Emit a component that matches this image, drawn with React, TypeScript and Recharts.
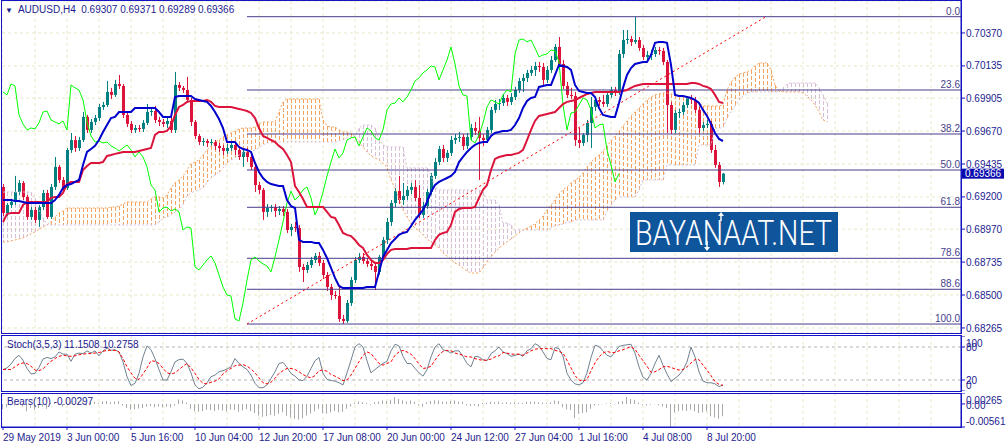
import React from "react";
import {
  ComposedChart,
  Bar,
  Line,
  XAxis,
  YAxis,
  CartesianGrid,
  ReferenceLine,
} from "recharts";

// AUDUSD H4 candles, bar 0 = 29 May 2019
const opens = [
  0.69271, 0.69086, 0.69143, 0.69164, 0.69235, 0.693, 0.692, 0.69057, 0.69107, 0.69036,
  0.69128, 0.69228, 0.69057, 0.69271, 0.69414, 0.69321, 0.69264, 0.69535, 0.69606, 0.69549,
  0.69606, 0.69771, 0.69678, 0.69735, 0.69763, 0.69842, 0.69856, 0.69949, 0.69928, 0.70006,
  0.69992, 0.69785, 0.69721, 0.69678, 0.69692, 0.69685, 0.69728, 0.69806, 0.69813, 0.69749,
  0.69735, 0.69721, 0.69742, 0.69678, 0.69999, 0.69978, 0.69963, 0.69892, 0.69735, 0.69635,
  0.69592, 0.69599, 0.69585, 0.69592, 0.69564, 0.69549, 0.69528, 0.69549, 0.69571, 0.69535,
  0.69485, 0.69521, 0.69485, 0.69414, 0.69285, 0.6925, 0.69093, 0.69121, 0.69128, 0.691,
  0.69114, 0.69093, 0.68964, 0.68986, 0.68978, 0.687, 0.68679, 0.68714, 0.6875, 0.68779,
  0.68729, 0.68643, 0.68557, 0.685, 0.68493, 0.68329, 0.68315, 0.68443, 0.68607, 0.6875,
  0.68772, 0.68743, 0.68722, 0.68707, 0.68665, 0.68772, 0.68893, 0.69021, 0.69157, 0.69242,
  0.69178, 0.69207, 0.6925, 0.69271, 0.69193, 0.69071, 0.69135, 0.69235, 0.6935, 0.69449,
  0.69542, 0.69478, 0.69514, 0.69606, 0.69621, 0.69628, 0.69564, 0.69628, 0.69692, 0.69671,
  0.69621, 0.69606, 0.69678, 0.69821, 0.69863, 0.6987, 0.69906, 0.69878, 0.69913, 0.69963,
  0.70027, 0.70049, 0.70085, 0.70106, 0.70134, 0.70127, 0.70035, 0.70106, 0.70177, 0.7027,
  0.70149, 0.69992, 0.69928, 0.6992, 0.69606, 0.69585, 0.69642, 0.69728, 0.69842, 0.69892,
  0.69878, 0.69863, 0.69928, 0.69963, 0.69949, 0.7022, 0.7032, 0.70327, 0.70306, 0.7032,
  0.70263, 0.70199, 0.70213, 0.7022, 0.70249, 0.70242, 0.70163, 0.69856, 0.69678, 0.69799,
  0.69806, 0.69856, 0.69906, 0.69892, 0.69821, 0.69692, 0.69713, 0.69721, 0.69535, 0.69428,
  0.69307,
];
const highs = [
  0.69292, 0.69157, 0.69185, 0.6935, 0.69321, 0.69314, 0.69214, 0.69128, 0.69128, 0.69143,
  0.6925, 0.6925, 0.69292, 0.69485, 0.69428, 0.69342, 0.69549, 0.69656, 0.69635, 0.69628,
  0.69806, 0.69785, 0.69756, 0.69785, 0.69863, 0.69878, 0.70027, 0.69978, 0.70035, 0.7007,
  0.70006, 0.69806, 0.69742, 0.69713, 0.69713, 0.69749, 0.69863, 0.69835, 0.69849, 0.69771,
  0.69756, 0.69771, 0.69785, 0.70092, 0.7002, 0.69992, 0.70056, 0.69906, 0.69749, 0.69649,
  0.69621, 0.69614, 0.69614, 0.69606, 0.69585, 0.69571, 0.69578, 0.69592, 0.69592, 0.69564,
  0.69542, 0.69549, 0.69507, 0.69435, 0.69307, 0.69264, 0.6915, 0.69143, 0.6915, 0.69135,
  0.69135, 0.69114, 0.69007, 0.69021, 0.69, 0.68722, 0.68736, 0.68772, 0.688, 0.68807,
  0.6875, 0.68665, 0.68579, 0.68529, 0.68557, 0.68358, 0.68465, 0.68629, 0.68772, 0.688,
  0.688, 0.68764, 0.6875, 0.68736, 0.68786, 0.68914, 0.6905, 0.69178, 0.69264, 0.6935,
  0.693, 0.69278, 0.693, 0.69321, 0.69285, 0.69164, 0.69257, 0.69371, 0.69478, 0.69564,
  0.69571, 0.69535, 0.69635, 0.69649, 0.69663, 0.69649, 0.69656, 0.69721, 0.69735, 0.69771,
  0.69649, 0.69699, 0.69842, 0.69892, 0.69899, 0.69935, 0.69928, 0.69942, 0.69985, 0.70049,
  0.70077, 0.70106, 0.70134, 0.70163, 0.70163, 0.70156, 0.70134, 0.70206, 0.70291, 0.70341,
  0.70177, 0.7002, 0.69978, 0.69949, 0.69692, 0.69656, 0.69749, 0.69913, 0.69913, 0.69913,
  0.69928, 0.69949, 0.69985, 0.69985, 0.70249, 0.70391, 0.70391, 0.70349, 0.70484, 0.70341,
  0.70284, 0.70242, 0.70249, 0.7027, 0.7027, 0.70263, 0.70177, 0.69878, 0.69821, 0.69828,
  0.69878, 0.6992, 0.69928, 0.69913, 0.69842, 0.69735, 0.69749, 0.69742, 0.69571, 0.69449,
  0.69371,
];
const lows = [
  0.69064, 0.69064, 0.69121, 0.69143, 0.69214, 0.69178, 0.69036, 0.69036, 0.69014, 0.68986,
  0.69107, 0.69043, 0.69043, 0.6925, 0.693, 0.69242, 0.6925, 0.69514, 0.69521, 0.69528,
  0.69592, 0.69656, 0.69656, 0.69713, 0.69742, 0.69821, 0.69842, 0.69899, 0.69913, 0.6997,
  0.69763, 0.69699, 0.69656, 0.69656, 0.69663, 0.69663, 0.69713, 0.69778, 0.69728, 0.69706,
  0.69699, 0.69692, 0.69656, 0.69656, 0.69956, 0.69942, 0.6987, 0.69706, 0.69614, 0.69571,
  0.69564, 0.69556, 0.69564, 0.69535, 0.69521, 0.69499, 0.69507, 0.69528, 0.69499, 0.69464,
  0.69414, 0.69449, 0.69392, 0.69235, 0.69221, 0.69036, 0.69057, 0.69093, 0.69057, 0.69071,
  0.69064, 0.68943, 0.68921, 0.6895, 0.68665, 0.68593, 0.68657, 0.68693, 0.68729, 0.68707,
  0.68615, 0.68529, 0.68465, 0.68472, 0.68308, 0.68293, 0.68301, 0.68422, 0.68586, 0.68729,
  0.68722, 0.687, 0.68679, 0.68536, 0.68643, 0.6875, 0.68864, 0.68993, 0.69128, 0.6915,
  0.69143, 0.69178, 0.69221, 0.69171, 0.6905, 0.6905, 0.69114, 0.69214, 0.69328, 0.69428,
  0.69449, 0.69449, 0.69492, 0.69578, 0.69592, 0.69535, 0.69542, 0.69606, 0.69642, 0.69321,
  0.69564, 0.69585, 0.69656, 0.69799, 0.69821, 0.69849, 0.69849, 0.69856, 0.69892, 0.69942,
  0.69949, 0.7002, 0.70063, 0.70063, 0.70092, 0.69999, 0.70013, 0.70085, 0.70163, 0.70127,
  0.6997, 0.69906, 0.69899, 0.69564, 0.69549, 0.69564, 0.69592, 0.69549, 0.69813, 0.69849,
  0.69842, 0.69842, 0.69906, 0.6992, 0.69928, 0.70192, 0.70291, 0.70277, 0.70291, 0.70242,
  0.70177, 0.70177, 0.70177, 0.70199, 0.70213, 0.70142, 0.69656, 0.69649, 0.69656, 0.69763,
  0.69785, 0.69835, 0.69863, 0.69799, 0.69656, 0.69671, 0.69692, 0.69514, 0.69407, 0.69271,
  0.69289,
];
const closes = [
  0.69086, 0.69143, 0.69164, 0.69235, 0.693, 0.692, 0.69057, 0.69107, 0.69036, 0.69128,
  0.69228, 0.69057, 0.69271, 0.69414, 0.69321, 0.69264, 0.69535, 0.69606, 0.69549, 0.69606,
  0.69771, 0.69678, 0.69735, 0.69763, 0.69842, 0.69856, 0.69949, 0.69928, 0.70006, 0.69992,
  0.69785, 0.69721, 0.69678, 0.69692, 0.69685, 0.69728, 0.69806, 0.69813, 0.69749, 0.69735,
  0.69721, 0.69742, 0.69678, 0.69999, 0.69978, 0.69963, 0.69892, 0.69735, 0.69635, 0.69592,
  0.69599, 0.69585, 0.69592, 0.69564, 0.69549, 0.69528, 0.69549, 0.69571, 0.69535, 0.69485,
  0.69521, 0.69485, 0.69414, 0.69285, 0.6925, 0.69093, 0.69121, 0.69128, 0.691, 0.69114,
  0.69093, 0.68964, 0.68986, 0.68978, 0.687, 0.68679, 0.68714, 0.6875, 0.68779, 0.68729,
  0.68643, 0.68557, 0.685, 0.68493, 0.68329, 0.68315, 0.68443, 0.68607, 0.6875, 0.68772,
  0.68743, 0.68722, 0.68707, 0.68665, 0.68772, 0.68893, 0.69021, 0.69157, 0.69242, 0.69178,
  0.69207, 0.6925, 0.69271, 0.69193, 0.69071, 0.69135, 0.69235, 0.6935, 0.69449, 0.69542,
  0.69478, 0.69514, 0.69606, 0.69621, 0.69628, 0.69564, 0.69628, 0.69692, 0.69671, 0.69621,
  0.69606, 0.69678, 0.69821, 0.69863, 0.6987, 0.69906, 0.69878, 0.69913, 0.69963, 0.70027,
  0.70049, 0.70085, 0.70106, 0.70134, 0.70127, 0.70035, 0.70106, 0.70177, 0.7027, 0.70149,
  0.69992, 0.69928, 0.6992, 0.69606, 0.69585, 0.69642, 0.69728, 0.69842, 0.69892, 0.69878,
  0.69863, 0.69928, 0.69963, 0.69949, 0.7022, 0.7032, 0.70327, 0.70306, 0.7032, 0.70263,
  0.70199, 0.70213, 0.7022, 0.70249, 0.70242, 0.70163, 0.69856, 0.69678, 0.69799, 0.69806,
  0.69856, 0.69906, 0.69892, 0.69821, 0.69692, 0.69713, 0.69721, 0.69535, 0.69428, 0.69307,
  0.69366,
];

// Ichimoku lines
const tenkanSen = [
  0.69178, 0.69178, 0.69178, 0.69171, 0.69171, 0.69164, 0.69157, 0.69157, 0.69157, 0.69157,
  0.69157, 0.69157, 0.69157, 0.69178, 0.69214, 0.69264, 0.69285, 0.69292, 0.69307, 0.69321,
  0.69428, 0.69521, 0.69542, 0.69564, 0.69606, 0.69663, 0.69713, 0.69763, 0.69771, 0.69806,
  0.69806, 0.69806, 0.69806, 0.69835, 0.69835, 0.69835, 0.69835, 0.69835, 0.69835, 0.69806,
  0.69771, 0.69771, 0.69771, 0.69913, 0.6992, 0.6992, 0.6992, 0.6992, 0.69899, 0.69892,
  0.69885, 0.69878, 0.69849, 0.69806, 0.69756, 0.69692, 0.69592, 0.69592, 0.69592, 0.69556,
  0.69542, 0.69535, 0.69521, 0.69442, 0.69378, 0.69335, 0.69307, 0.69292, 0.69285, 0.69278,
  0.69278, 0.69178, 0.69135, 0.69121, 0.68893, 0.68879, 0.68879, 0.68879, 0.68871, 0.68871,
  0.68822, 0.68764, 0.68693, 0.68622, 0.68565, 0.6855, 0.6855, 0.6855, 0.6855, 0.6855,
  0.6855, 0.68557, 0.68557, 0.68557, 0.68665, 0.68772, 0.68822, 0.68871, 0.689, 0.68929,
  0.68943, 0.6895, 0.68993, 0.69036, 0.69071, 0.69107, 0.69164, 0.69235, 0.69285, 0.69307,
  0.69321, 0.69335, 0.6935, 0.69378, 0.69449, 0.69485, 0.69521, 0.69549, 0.69571, 0.69585,
  0.69592, 0.69592, 0.69635, 0.69656, 0.69663, 0.69671, 0.69671, 0.69678, 0.69713, 0.69763,
  0.69835, 0.69885, 0.69906, 0.69913, 0.69985, 0.69992, 0.69999, 0.69999, 0.7007, 0.70142,
  0.70134, 0.70127, 0.70106, 0.69999, 0.69956, 0.69949, 0.69942, 0.69942, 0.69913, 0.69835,
  0.69785, 0.69778, 0.69771, 0.69771, 0.6987, 0.69978, 0.7007, 0.7012, 0.70149, 0.70156,
  0.70163, 0.70163, 0.70213, 0.70299, 0.70306, 0.70306, 0.70299, 0.70142, 0.69928, 0.6992,
  0.6992, 0.69913, 0.69906, 0.69892, 0.6987, 0.69821, 0.69778, 0.69721, 0.69656, 0.69614,
  0.69599,
];
const kijunSen = [
  0.69021, 0.69078, 0.69086, 0.69086, 0.69086, 0.69143, 0.69164, 0.69164, 0.69164, 0.69164,
  0.69164, 0.69164, 0.69193, 0.692, 0.692, 0.69228, 0.69292, 0.69307, 0.69307, 0.69307,
  0.69392, 0.69421, 0.69442, 0.69442, 0.69442, 0.69449, 0.69492, 0.69499, 0.69507, 0.69514,
  0.69521, 0.69521, 0.69521, 0.69521, 0.69528, 0.69535, 0.69542, 0.69549, 0.69642, 0.69663,
  0.69663, 0.69671, 0.69706, 0.69785, 0.69842, 0.69856, 0.69878, 0.69885, 0.69885, 0.69885,
  0.69885, 0.69892, 0.69878, 0.69849, 0.69842, 0.69842, 0.69842, 0.69842, 0.69835, 0.69828,
  0.69821, 0.69813, 0.69799, 0.69763, 0.69692, 0.69635, 0.69621, 0.69606, 0.69592, 0.69564,
  0.69542, 0.69499, 0.69449, 0.69278, 0.69235, 0.69185, 0.69128, 0.69128, 0.69128, 0.69128,
  0.69128, 0.69093, 0.69057, 0.6905, 0.69, 0.68943, 0.68929, 0.68921, 0.68893, 0.68857,
  0.68836, 0.68786, 0.6875, 0.68729, 0.68729, 0.6875, 0.68793, 0.68822, 0.68829, 0.68829,
  0.68829, 0.68829, 0.68836, 0.68836, 0.68836, 0.68836, 0.68836, 0.68836, 0.68893, 0.68929,
  0.68943, 0.6895, 0.69, 0.69093, 0.69114, 0.69121, 0.69121, 0.69121, 0.69128, 0.69193,
  0.6925, 0.69285, 0.69392, 0.69471, 0.69485, 0.69492, 0.69499, 0.69499, 0.69507, 0.69514,
  0.69535, 0.69606, 0.69678, 0.69742, 0.69778, 0.69785, 0.69792, 0.69799, 0.69806, 0.69835,
  0.69863, 0.69878, 0.69885, 0.69892, 0.69906, 0.6992, 0.69935, 0.69942, 0.69949, 0.69949,
  0.69949, 0.69949, 0.69949, 0.69949, 0.69949, 0.69956, 0.69963, 0.69978, 0.69992, 0.69999,
  0.70006, 0.70006, 0.70006, 0.70006, 0.70006, 0.70006, 0.70006, 0.70006, 0.70006, 0.70006,
  0.70006, 0.70006, 0.70013, 0.70013, 0.70006, 0.69992, 0.69985, 0.6997, 0.69928, 0.69878,
  0.6987,
];
// cloud, already shifted 26 bars forward (207 slots)
const senkouSpanA = [
  0.68879, 0.68879, 0.68886, 0.68893, 0.689, 0.68907, 0.68921, 0.68936, 0.6895, 0.68971,
  0.68986, 0.69, 0.69021, 0.69057, 0.69086, 0.691, 0.69121, 0.69121, 0.69121, 0.69121,
  0.69121, 0.69121, 0.69121, 0.69121, 0.69121, 0.69121, 0.69121, 0.69128, 0.69128, 0.69135,
  0.6915, 0.69164, 0.69164, 0.69164, 0.69164, 0.69164, 0.69164, 0.69185, 0.692, 0.692,
  0.69193, 0.69214, 0.69264, 0.693, 0.69321, 0.6935, 0.69392, 0.69435, 0.69449, 0.69464,
  0.69499, 0.69535, 0.69564, 0.69592, 0.69606, 0.69628, 0.69642, 0.69656, 0.69671, 0.69685,
  0.69692, 0.69692, 0.69692, 0.69699, 0.69721, 0.69735, 0.69735, 0.69735, 0.69735, 0.69806,
  0.69878, 0.69899, 0.69899, 0.69899, 0.69899, 0.69899, 0.69899, 0.69899, 0.69899, 0.69899,
  0.69749, 0.69706, 0.69699, 0.69699, 0.69678, 0.69663, 0.69663, 0.69656, 0.69628, 0.69592,
  0.69556, 0.69521, 0.69492, 0.69478, 0.69464, 0.69442, 0.69414, 0.69321, 0.69264, 0.69193,
  0.69107, 0.69057, 0.69007, 0.68978, 0.68957, 0.68929, 0.689, 0.68879, 0.68857, 0.68836,
  0.688, 0.68779, 0.68757, 0.68729, 0.68714, 0.68693, 0.68672, 0.68657, 0.68657, 0.68657,
  0.68693, 0.68736, 0.68772, 0.68807, 0.68836, 0.68857, 0.68879, 0.689, 0.68921, 0.68943,
  0.68964, 0.68978, 0.68993, 0.69007, 0.69036, 0.69064, 0.69107, 0.69143, 0.69178, 0.69221,
  0.6925, 0.69271, 0.693, 0.69321, 0.69335, 0.69371, 0.69414, 0.69449, 0.69478, 0.69499,
  0.69528, 0.69564, 0.69599, 0.69635, 0.69671, 0.69706, 0.69742, 0.69778, 0.69806, 0.69835,
  0.69863, 0.69892, 0.69913, 0.69928, 0.69935, 0.69942, 0.69942, 0.69935, 0.69928, 0.6992,
  0.69913, 0.69906, 0.69899, 0.69892, 0.6987, 0.69849, 0.69849, 0.69849, 0.69849, 0.69849,
  0.69856, 0.69963, 0.7002, 0.70056, 0.70077, 0.70085, 0.70092, 0.70106, 0.70134, 0.70156,
  0.70156, 0.70156, 0.70106, 0.69999, 0.69956, 0.69949, 0.69949, 0.69949, 0.69949, 0.69949,
  0.69942, 0.6992, 0.69892, 0.69856, 0.69806, 0.69749, 0.69735,
];
const senkouSpanB = [
  0.69235, 0.69235, 0.69235, 0.69235, 0.69235, 0.69235, 0.69235, 0.69235, 0.69193, 0.69107,
  0.6905, 0.69, 0.69, 0.69, 0.69, 0.69, 0.69, 0.69, 0.69, 0.69,
  0.69, 0.69, 0.69, 0.69, 0.69, 0.69, 0.69, 0.69, 0.69, 0.69,
  0.69, 0.69, 0.69, 0.69, 0.69, 0.69, 0.69, 0.69, 0.69, 0.69021,
  0.6905, 0.69057, 0.69071, 0.69093, 0.69107, 0.69143, 0.69207, 0.69228, 0.69242, 0.6925,
  0.69264, 0.69307, 0.69335, 0.69357, 0.69378, 0.69407, 0.69442, 0.69464, 0.69478, 0.69499,
  0.69514, 0.69521, 0.69528, 0.69535, 0.69549, 0.69571, 0.69585, 0.69585, 0.69592, 0.69592,
  0.69592, 0.69592, 0.69592, 0.69592, 0.69592, 0.69592, 0.69592, 0.69592, 0.69592, 0.69592,
  0.69592, 0.69592, 0.69592, 0.69592, 0.69599, 0.69606, 0.69621, 0.69628, 0.69628, 0.69692,
  0.69713, 0.69713, 0.69713, 0.69692, 0.69606, 0.69571, 0.69556, 0.69556, 0.69556, 0.69556,
  0.69556, 0.69407, 0.69407, 0.69407, 0.69407, 0.69407, 0.69407, 0.69357, 0.69264, 0.6925,
  0.6925, 0.6925, 0.6925, 0.6925, 0.6925, 0.6925, 0.6925, 0.6925, 0.6925, 0.6925,
  0.69235, 0.69178, 0.69178, 0.69178, 0.69143, 0.69014, 0.69014, 0.69, 0.68964, 0.68964,
  0.68964, 0.68964, 0.68964, 0.68964, 0.68964, 0.68964, 0.68964, 0.68978, 0.68993, 0.69,
  0.69007, 0.69021, 0.69021, 0.69036, 0.69036, 0.69036, 0.69036, 0.69036, 0.69036, 0.69036,
  0.69036, 0.69093, 0.69143, 0.69178, 0.692, 0.692, 0.692, 0.692, 0.692, 0.6925,
  0.69321, 0.69321, 0.69321, 0.69321, 0.69321, 0.69321, 0.69428, 0.69428, 0.69428, 0.69428,
  0.69428, 0.69428, 0.69428, 0.69428, 0.69571, 0.69571, 0.69571, 0.69571, 0.69692, 0.69692,
  0.69692, 0.69763, 0.69806, 0.69849, 0.69892, 0.6992, 0.69942, 0.69949, 0.69949, 0.69949,
  0.69949, 0.69949, 0.69949, 0.69949, 0.69949, 0.69978, 0.70006, 0.70013, 0.70013, 0.70013,
  0.70013, 0.70013, 0.70013, 0.70013, 0.69978, 0.69928, 0.6987,
];

// Stochastic(3,5,3)
const stochMain = [
  39, 42, 49, 59, 65, 56, 41, 31, 32, 43,
  58, 61, 59, 62, 71, 67, 67, 54, 67, 69,
  68, 73, 69, 73, 64, 73, 78, 74, 75, 71,
  53, 26, 10, 14, 32, 62, 82, 75, 59, 39,
  20, 20, 35, 53, 57, 58, 50, 33, 11, 4,
  7, 15, 26, 29, 35, 37, 40, 44, 59, 50,
  44, 39, 29, 14, 6, 6, 11, 23, 35, 50,
  52, 43, 32, 27, 20, 19, 27, 41, 55, 61,
  32, 21, 19, 18, 15, 11, 33, 56, 80, 86,
  80, 55, 33, 39, 45, 50, 54, 73, 85, 82,
  63, 50, 50, 41, 33, 27, 39, 62, 80, 86,
  75, 73, 69, 73, 73, 63, 50, 44, 63, 62,
  57, 55, 68, 73, 80, 71, 68, 63, 65, 67,
  63, 73, 77, 86, 82, 71, 59, 57, 79, 77,
  63, 32, 20, 13, 11, 15, 33, 61, 83, 81,
  73, 65, 62, 71, 81, 83, 84, 85, 69, 44,
  25, 20, 32, 50, 65, 47, 31, 17, 23, 29,
  38, 53, 80, 62, 35, 18, 15, 15, 13, 8,
  11.1508,
];
const stochSignal = [
  39, 39, 39, 44, 49, 51, 50, 45, 38, 37,
  40, 48, 54, 59, 63, 65, 64, 63, 64, 66,
  67, 68, 68, 69, 70, 72, 74, 74, 74, 71,
  59, 44, 33, 23, 21, 31, 42, 55, 54, 50,
  41, 33, 31, 33, 39, 45, 50, 42, 32, 21,
  14, 13, 16, 18, 22, 31, 37, 41, 46, 47,
  48, 45, 40, 33, 24, 15, 13, 16, 23, 32,
  37, 41, 41, 39, 35, 30, 26, 24, 28, 37,
  38, 36, 30, 27, 23, 19, 20, 29, 41, 53,
  65, 71, 68, 59, 50, 47, 50, 53, 65, 71,
  74, 71, 67, 59, 49, 41, 42, 45, 56, 66,
  72, 74, 73, 69, 67, 65, 62, 62, 59, 57,
  56, 56, 58, 62, 64, 70, 69, 67, 67, 67,
  65, 69, 73, 76, 77, 77, 77, 77, 74, 72,
  69, 56, 42, 28, 20, 18, 21, 37, 51, 62,
  69, 72, 70, 70, 73, 75, 78, 80, 76, 65,
  55, 45, 34, 35, 39, 44, 45, 43, 40, 38,
  39, 44, 51, 57, 57, 47, 38, 28, 17, 12,
  10.2758,
];
// Bears Power(10)
const bearsPower = [
  -0.0013, -0.0008, -0.0003, -0.0004, -0.0002, -0.0006, -0.0018, -0.001, -0.0014, -0.001,
  -0.0006, -0.0012, 0.0002, 0.0003, -0.0003, -0.0006, 0.0004, 0.0006, -0.0002, 0.0003,
  0.0005, -0.0003, 0.0004, 0.0005, 0.0002, 0.0006, 0.0007, 0.0004, 0.0006, 0.0007,
  -0.0003, -0.001, -0.0014, -0.0013, -0.0011, -0.001, -0.0007, -0.0005, -0.0008, -0.0006,
  -0.0008, -0.0007, -0.0009, -0.0004, 0.0011, 0.0008, 0.0003, -0.0012, -0.0017, -0.0019,
  -0.0017, -0.0014, -0.0015, -0.0017, -0.0014, -0.0016, -0.0018, -0.0014, -0.0015, -0.0019,
  -0.0016, -0.0013, -0.0018, -0.0022, -0.0028, -0.0031, -0.003, -0.0027, -0.0029, -0.0024,
  -0.002, -0.0029, -0.0033, -0.0036, -0.0038, -0.0035, -0.0028, -0.0023, -0.0018, -0.0012,
  -0.0022, -0.0024, -0.002, -0.0017, -0.0021, -0.0019, -0.0012, -0.0006, 0.0003, 0.0006,
  0.0004, 0.0002, -0.0002, 0.0004, 0.0006, 0.0008, 0.0007, 0.001, 0.0016, 0.0012,
  0.0009, 0.0006, 0.0008, 0.0005, -0.0003, -0.0007, 0.0004, 0.0007, 0.0009, 0.0008,
  0.0006, 0.0005, 0.0007, 0.0008, 0.0006, 0.0005, -0.0003, -0.0005, -0.0004, -0.0006,
  0.0002, 0.0003, 0.0005, 0.0004, 0.0006, 0.0003, 0.0004, 0.0003, 0.0004, 0.0003,
  0.0002, 0.0005, 0.0005, 0.0006, 0.0004, 0.0003, 0.0002, 0.0004, 0.0008, 0.0007,
  -0.0008, -0.0013, -0.0015, -0.0035, -0.0024, -0.0022, -0.002, -0.0012, -0.0004, -0.0002,
  -0.0001, 0.0001, 0.0002, -0.0001, 0.0005, 0.0007, 0.0017, 0.0012, 0.001, 0.0003,
  -0.0002, -0.0003, -0.0002, -0.0001, -0.0003, -0.0006, -0.001, -0.00561, -0.002, -0.0018,
  -0.0016, -0.0017, -0.0014, -0.0018, -0.0022, -0.002, -0.0018, -0.003, -0.0033, -0.0036,
  -0.00297,
];

const priceTicks = [0.7037, 0.70135, 0.69905, 0.6967, 0.69435, 0.692, 0.6897, 0.68735, 0.685, 0.68265];
const fibLevels = [0.70486, 0.69963, 0.69649, 0.69392, 0.69126, 0.68762, 0.68541, 0.68293];
const fibNames = ["0.0", "23.6", "38.2", "50.0", "61.8", "78.6", "88.6", "100.0"];
const fibStartBar = 61;
const trendBars = [61, 190.75];
const trendPrices = [0.68293, 0.70486];
const timeTickBars = [0, 16, 32, 48, 64, 80, 96, 112, 128, 144, 160, 176];
const timeLabels = [
  "29 May 2019", "3 Jun 00:00", "5 Jun 16:00", "10 Jun 04:00", "12 Jun 20:00", "17 Jun 08:00",
  "20 Jun 00:00", "24 Jun 12:00", "27 Jun 04:00", "1 Jul 16:00", "4 Jul 08:00", "8 Jul 20:00",
];
const CHIKOU_SHIFT = 26;

const FONT = "'Liberation Sans', Arial, sans-serif";
const TEXT = "#1c1c8e";
const FRAME = "#1414c4";
const GRID = "#e9e7c8";
const FIB = "#483d8b";
const BULL = "#008080";
const BEAR = "#dc143c";
const CLOUD_UP = "#f4a460";
const CLOUD_DOWN = "#d8bfd8";
const PRICE_DOMAIN = [0.68229, 0.70598];
const X_DOMAIN = [-0.25, 239.5];
const gridBars = Array.from({ length: 30 }, (_, k) => k * 8);

const rows = senkouSpanA.map((a, i) => ({
  i,
  open: opens[i] ?? null,
  high: highs[i] ?? null,
  low: lows[i] ?? null,
  close: closes[i] ?? null,
  tenkan: tenkanSen[i] ?? null,
  kijun: kijunSen[i] ?? null,
  chikou: closes[i + CHIKOU_SHIFT] ?? null,
  spanA: a,
  spanB: senkouSpanB[i],
}));

const oscRows = closes.map((_, i) => ({
  i,
  stoch: stochMain[i],
  signal: stochSignal[i],
  bears: bearsPower[i],
}));

const candleRange = (d: any) => (d.high == null ? null : [d.low, d.high]);
const cloudRange = (d: any) => [Math.min(d.spanA, d.spanB), Math.max(d.spanA, d.spanB)];

function Candle(props: any) {
  const { x, y, width, height, payload } = props;
  if (!payload || payload.open == null) return null;
  const { open, close, high, low } = payload;
  const top = Math.min(y, y + height);
  const span = Math.abs(height);
  const range = high - low || 1;
  const toY = (p: number) => top + ((high - p) / range) * span;
  const cx = Math.round(x + width / 2);
  const color = close >= open ? BULL : BEAR;
  const bTop = toY(Math.max(open, close));
  const bBot = toY(Math.min(open, close));
  return (
    <g>
      <line x1={cx + 0.5} x2={cx + 0.5} y1={top} y2={top + span} stroke={color} strokeWidth={1} />
      <rect x={cx - 1} y={bTop} width={3} height={Math.max(1, bBot - bTop)} fill={color} />
    </g>
  );
}

// one dotted column per bar between the two spans, coloured like MT4
function CloudColumn(props: any) {
  const { x, y, width, height, payload } = props;
  if (!payload || payload.spanA == null || !height) return null;
  const top = Math.min(y, y + height);
  const cx = Math.round(x + width / 2);
  const color = payload.spanA >= payload.spanB ? CLOUD_UP : CLOUD_DOWN;
  return (
    <line
      x1={cx + 0.5}
      x2={cx + 0.5}
      y1={Math.round(top)}
      y2={Math.round(top + Math.abs(height))}
      stroke={color}
      strokeWidth={1}
      strokeDasharray="4 2"
      shapeRendering="crispEdges"
    />
  );
}

function FibLabel(name: string) {
  return (props: any) => {
    const vb = props.viewBox || {};
    return (
      <text x={vb.x + vb.width - 1} y={vb.y - 2} textAnchor="end" fill={FIB} fontSize={10} fontFamily={FONT}>
        {name}
      </text>
    );
  };
}

function PriceTag(props: any) {
  const vb = props.viewBox || {};
  const x = vb.x + vb.width + 1;
  return (
    <g>
      <rect x={x} y={vb.y - 5} width={42} height={10} fill="#0c0cae" />
      <text x={x + 3} y={vb.y} dy="0.36em" fill="#fff" fontSize={10} fontFamily={FONT}>
        {closes[closes.length - 1].toFixed(5)}
      </text>
    </g>
  );
}

function StochTick(props: any) {
  const { x, y, payload } = props;
  const v = payload.value;
  const dy = v === 100 ? 7 : v === 0 ? -6 : 0;
  return (
    <text x={x} y={y + dy} dy="0.35em" fill={TEXT} fontSize={10} fontFamily={FONT}>
      {v}
    </text>
  );
}

function BearsTick(props: any) {
  const { x, y, payload } = props;
  const v = payload.value;
  const dy = v > 0 ? 7.5 : v < 0 ? -6 : 2;
  return (
    <text x={x} y={y + dy} dy="0.35em" fill={TEXT} fontSize={10} fontFamily={FONT}>
      {v === 0 ? "0.00" : v.toFixed(5)}
    </text>
  );
}

function TimeTick(props: any) {
  const { x, y, payload } = props;
  const idx = timeTickBars.indexOf(payload.value);
  return (
    <text x={x} y={y + 8.5} fill={TEXT} fontSize={10} fontFamily={FONT}>
      {timeLabels[idx]}
    </text>
  );
}

function MainChart() {
  return (
    <ComposedChart width={1007} height={334} data={rows} margin={{ top: 1, right: 0, bottom: 1, left: 2 }}>
      <CartesianGrid stroke={GRID} strokeDasharray="3 3" />
      <XAxis type="number" dataKey="i" domain={X_DOMAIN} ticks={gridBars} hide height={0} allowDataOverflow />
      <XAxis xAxisId="cloud" type="number" dataKey="i" domain={X_DOMAIN} hide height={0} allowDataOverflow />
      <YAxis
        orientation="right"
        type="number"
        domain={PRICE_DOMAIN}
        ticks={priceTicks}
        interval={0}
        width={46}
        tickSize={4}
        tickMargin={1}
        allowDataOverflow
        tick={{ fill: TEXT, fontSize: 10, fontFamily: FONT }}
        tickLine={{ stroke: FRAME }}
        axisLine={{ stroke: FRAME }}
        tickFormatter={(v: number) => v.toFixed(5)}
      />
      <YAxis yAxisId="cloud" orientation="right" type="number" domain={PRICE_DOMAIN} hide width={0} allowDataOverflow />
      <Bar
        xAxisId="cloud"
        yAxisId="cloud"
        dataKey={cloudRange}
        barSize={1}
        shape={(p: any) => <CloudColumn {...p} />}
        isAnimationActive={false}
      />
      <Line dataKey="spanA" stroke={CLOUD_UP} strokeDasharray="2 2" dot={false} isAnimationActive={false} />
      <Line dataKey="spanB" stroke={CLOUD_DOWN} strokeDasharray="2 2" dot={false} isAnimationActive={false} />
      {fibLevels.map((lv, k) => (
        <ReferenceLine
          key={fibNames[k]}
          segment={[
            { x: fibStartBar, y: lv },
            { x: X_DOMAIN[1], y: lv },
          ]}
          stroke={FIB}
          strokeWidth={1}
          label={FibLabel(fibNames[k])}
        />
      ))}
      <ReferenceLine
        segment={[
          { x: trendBars[0], y: trendPrices[0] },
          { x: trendBars[1], y: trendPrices[1] },
        ]}
        stroke="#ff0000"
        strokeDasharray="2 3"
      />
      <Bar dataKey={candleRange} barSize={3} shape={(p: any) => <Candle {...p} />} isAnimationActive={false} />
      <Line dataKey="chikou" stroke="#00ff00" strokeWidth={1} dot={false} isAnimationActive={false} />
      <Line dataKey="kijun" stroke={BEAR} strokeWidth={2} dot={false} isAnimationActive={false} />
      <Line dataKey="tenkan" stroke="#0000cd" strokeWidth={2} dot={false} isAnimationActive={false} />
      <ReferenceLine y={closes[closes.length - 1]} stroke="none" label={PriceTag} />
    </ComposedChart>
  );
}

function StochChart() {
  return (
    <ComposedChart width={1007} height={55} data={oscRows} margin={{ top: 0, right: 0, bottom: 0, left: 2 }}>
      <CartesianGrid horizontal={false} stroke={GRID} strokeDasharray="3 3" />
      <XAxis type="number" dataKey="i" domain={X_DOMAIN} ticks={gridBars} hide height={0} allowDataOverflow />
      <YAxis
        orientation="right"
        type="number"
        domain={[0, 100]}
        ticks={[0, 20, 80, 100]}
        interval={0}
        width={46}
        tickSize={4}
        tickMargin={1}
        tick={StochTick}
        tickLine={{ stroke: FRAME }}
        axisLine={{ stroke: FRAME }}
      />
      <ReferenceLine y={80} stroke="#b4b4b4" strokeDasharray="3 3" />
      <ReferenceLine y={20} stroke="#b4b4b4" strokeDasharray="3 3" />
      <Line dataKey="stoch" stroke="#708090" strokeWidth={1} dot={false} isAnimationActive={false} />
      <Line dataKey="signal" stroke="#ff0000" strokeWidth={1} strokeDasharray="3 2" dot={false} isAnimationActive={false} />
    </ComposedChart>
  );
}

function BearsChart() {
  return (
    <ComposedChart width={1007} height={55} data={oscRows} margin={{ top: 0, right: 0, bottom: 0, left: 2 }}>
      <XAxis
        xAxisId="time"
        type="number"
        dataKey="i"
        domain={X_DOMAIN}
        ticks={timeTickBars}
        interval={0}
        height={21}
        tickSize={3}
        tickMargin={2}
        allowDataOverflow
        tick={TimeTick}
        tickLine={{ stroke: FRAME }}
        axisLine={{ stroke: FRAME }}
      />
      <XAxis xAxisId="grid" type="number" dataKey="i" domain={X_DOMAIN} ticks={gridBars} hide height={0} allowDataOverflow />
      <CartesianGrid horizontal={false} xAxisId="grid" stroke={GRID} strokeDasharray="3 3" />
      <YAxis
        orientation="right"
        type="number"
        domain={[-0.00561, 0.00265]}
        ticks={[-0.00561, 0, 0.00265]}
        interval={0}
        width={46}
        tickSize={4}
        tickMargin={1}
        allowDataOverflow
        tick={BearsTick}
        tickLine={{ stroke: FRAME }}
        axisLine={{ stroke: FRAME }}
      />
      <Bar xAxisId="time" dataKey="bears" fill="#a9a9a9" barSize={1} isAnimationActive={false} />
    </ComposedChart>
  );
}

const frame = (top: number, height: number) => ({
  position: "absolute" as const,
  left: 1,
  top,
  width: 961,
  height,
  boxSizing: "border-box" as const,
  border: `1px solid ${FRAME}`,
  pointerEvents: "none" as const,
});

const label = (left: number, top: number) => ({
  position: "absolute" as const,
  left,
  top,
  fontSize: 10,
  lineHeight: "12px",
  color: TEXT,
  fontFamily: FONT,
  whiteSpace: "pre" as const,
});

export default function App() {
  return (
    <div
      style={{
        position: "absolute",
        left: 0,
        top: 0,
        width: 1007,
        height: 448,
        background: "#ffffff",
        overflow: "hidden",
        fontFamily: FONT,
      }}
    >
      <div style={{ position: "absolute", left: 0, top: 0 }}>
        <MainChart />
      </div>
      <div style={{ position: "absolute", left: 0, top: 336 }}>
        <StochChart />
      </div>
      <div style={{ position: "absolute", left: 0, top: 393 }}>
        <BearsChart />
      </div>

      <div style={frame(0, 334)} />
      <div style={frame(335, 57)} />
      <div style={frame(393, 35)} />

      <div style={label(5, 4)}>
        <span style={{ fontSize: 8, marginRight: 5 }}>▼</span>AUDUSD,H4  0.69307 0.69371 0.69289 0.69366
      </div>
      <div style={label(7, 339)}>Stoch(3,5,3) 11.1508 10.2758</div>
      <div style={label(7, 396)}>Bears(10) -0.00297</div>

      <svg style={{ position: "absolute", left: 630, top: 211, overflow: "visible" }} width={208} height={41}>
        <rect x={0} y={1} width={208} height={40} fill="#0f559b" />
        <text
          x={5}
          y={34}
          fill="#ffffff"
          fontSize={35}
          fontWeight={300}
          fontFamily="Roboto, 'Liberation Sans', sans-serif"
          textLength={197}
          lengthAdjust="spacingAndGlyphs"
        >
          BAYANAAT.NET
        </text>
        <line x1={77} x2={77} y1={30} y2={38} stroke="#fff" strokeWidth={1.5} />
        <polygon points="74,36 80,36 77,40" fill="#fff" />
        <line x1={91} x2={91} y1={3} y2={10} stroke="#fff" strokeWidth={1.5} />
        <polygon points="88,5 94,5 91,1" fill="#fff" />
      </svg>
    </div>
  );
}
